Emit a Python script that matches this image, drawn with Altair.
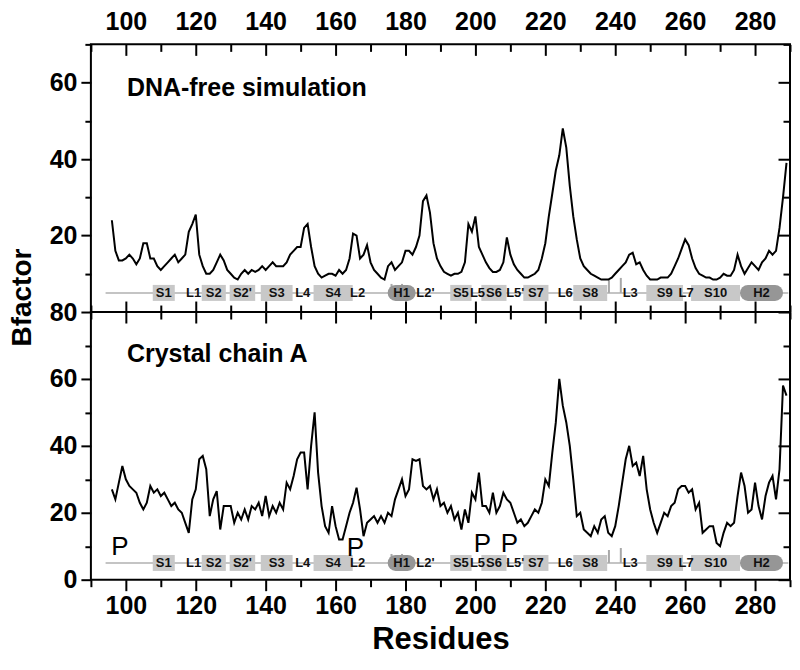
import altair as alt
import pandas as pd

# ---------------- data ----------------
residues = list(range(96, 290))

dna_free = [24, 16, 13.5, 13.5, 14, 15, 14, 12.5, 14, 18,
            18, 14, 14, 12, 11, 12, 13, 14, 15, 13,
            14, 15, 21, 23, 25.5, 15, 12, 10, 10, 11,
            13, 15, 13.5, 11, 10, 9, 8.5, 10, 11, 10,
            11, 10.5, 11, 12, 11, 12, 13, 12, 12, 12,
            13, 15, 16, 17, 17, 22, 23, 17, 12, 10,
            9, 9.5, 10, 10, 9.5, 11, 10, 11, 14, 20.5,
            20, 14, 15, 17.5, 13, 11, 10, 9, 8.5, 12,
            13, 11, 12, 13, 16, 16, 15, 17, 20, 29,
            30.5, 26, 18, 14, 12, 10.5, 10, 9.5, 10, 10,
            10.5, 13, 23, 21, 25, 17, 15, 13, 11.5, 10.5,
            10.5, 11, 13, 19.5, 15, 12.5, 11, 10, 9, 9,
            9.5, 10, 11, 14, 18, 25, 31, 37, 41, 48,
            43, 33, 25, 19, 14, 12, 11, 10, 9.5, 9,
            8.5, 8.5, 8.5, 9,
            10, 11, 12, 13, 15, 15.5, 12.5, 13, 11, 9.5,
            8.5, 8.5, 8.5, 9, 9, 9,
            10, 12, 14, 16.5, 19, 17.5, 14, 11.5, 10, 9.5,
            9, 9, 8.5, 8.5, 9, 10, 9.5, 9.5, 11, 15,
            12, 10, 11.5, 13, 12, 11, 13, 14, 16, 15,
            16, 22, 30, 39]

crystal_a = [27, 24, 29, 34, 30, 28, 27, 26, 23, 21,
             23, 28, 26, 27, 25, 26, 24, 22, 23, 21,
             20, 17, 14, 24, 27, 36, 37, 33, 19, 24,
             26.5, 15, 22, 22, 22, 17, 20, 18, 21, 18,
             22, 21, 23, 19, 25, 19, 22, 20, 23, 21,
             29, 27, 31, 36, 38, 38, 27, 40, 50, 32,
             22, 16, 14, 22, 16, 12, 12, 16, 20, 23,
             27.5, 21, 13, 17, 18, 19, 17, 19, 17, 20,
             19, 24, 27, 30, 25, 27, 36, 35.5, 36, 28,
             27, 28, 24, 27, 22, 23, 20, 22, 18, 20,
             15, 21, 17, 26, 24, 32, 22, 22, 20, 26,
             20, 22, 26, 24, 23, 20, 17, 18, 16, 17,
             19, 21, 20, 23, 30, 28, 38, 47, 60, 52,
             47, 40, 30, 19, 20, 15, 14, 13, 16, 14,
             18, 19, 14, 13, 16, 22, 29, 36, 40, 34,
             35, 31, 37, 27, 21, 17, 14, 17, 20, 19,
             22, 23, 27, 28, 28, 26, 27, 21, 23, 14,
             15, 16, 16, 11, 10, 14, 17, 16, 17, 25,
             32, 28, 20, 21, 29, 22, 18, 25, 29, 31,
             24, 33, 58, 55]

# secondary structure (residue ranges)
strand_names = ["S1", "S2", "S2'", "S3", "S4", "S5", "S6", "S7", "S8", "S9", "S10"]
strand_start = [107.7, 121.7, 129.7, 138.6, 153.7, 192.8, 201.7, 213.7, 228.0, 248.9, 261.7]
strand_end = [114.0, 128.6, 137.0, 147.7, 164.9, 198.9, 208.9, 220.9, 237.7, 259.4, 275.7]

helix_names = ["H1", "H2"]
helix_start = [174.9, 275.7]
helix_end = [182.9, 288.0]

loop_names = ["L1", "L4", "L2", "L2'", "L5", "L5'", "L6", "L3", "L7"]
loop_pos = [119.4, 150.6, 166.3, 185.7, 200.6, 211.4, 225.7, 244.3, 260.3]

ss_line_start = [94.2]
ss_line_end = [289.5]
ss_level = 5

mark_pos = [176.0, 179.0, 238.2, 241.6]
mark_len_px = [9, 9, 13, 15]

p_pos = [98.3, 165.7, 202.0, 209.7]
p_val = [7.5, 7.2, 8.4, 8.4]

x_major = list(range(100, 281, 20))
x_minor = list(range(90, 291, 20))

# ---------------- styling ----------------
FONT = "Liberation Sans, Arial, Helvetica, sans-serif"
W, H = 700, 268
X_DOMAIN = [90, 290]
PX_PER_RES = W / (X_DOMAIN[1] - X_DOMAIN[0])


def axis(orient, values, size, inward, labels=False, **kw):
    props = dict(orient=orient, values=values, tickSize=size, labels=labels,
                 domain=False, grid=False, tickColor="black", tickWidth=2,
                 title=None)
    if inward:
        props["offset"] = -size
    props.update(kw)
    return alt.Axis(**props)


def panel(curve, ymax, y_major, y_minor, top_labels, bottom_labels, label_text,
          label_val, p_marks=False, y_title=False):
    ppu = H / ymax
    xs = alt.Scale(domain=X_DOMAIN, nice=False, zero=False)
    ys = alt.Scale(domain=[0, ymax], nice=False, zero=False)
    df = pd.DataFrame({"res": residues, "b": curve})

    lab = dict(labelFont=FONT, labelFontSize=25, labelFontWeight="bold",
               labelColor="black")
    if top_labels:
        x_top_major = axis("top", x_major, 11, True, labels=True, labelPadding=10, **lab)
    else:
        x_top_major = axis("top", x_major, 11, True)
    x_top_minor = axis("top", x_minor, 7, True)
    if bottom_labels:
        x_bot_major = axis("bottom", x_major, 11, False, labels=True, labelPadding=3,
                           title="Residues", titleFont=FONT, titleFontSize=31,
                           titleFontWeight="bold", titleColor="black",
                           titlePadding=6, **lab)
        x_bot_minor = axis("bottom", x_minor, 7, False)
    else:
        x_bot_major = axis("bottom", x_major, 11, True)
        x_bot_minor = axis("bottom", x_minor, 7, True)
    ykw = dict(labelPadding=4, **lab)
    if y_title:
        ykw.update(title="Bfactor", titleFont=FONT, titleFontSize=28,
                   titleFontWeight="bold", titleColor="black", titleAngle=270,
                   titleX=-68, titleY=H - 15, titleAlign="center",
                   titleBaseline="middle")
    y_left_major = axis("left", y_major, 10, False, labels=True, **ykw)
    y_left_minor = axis("left", y_minor, 6, False)
    y_right_major = axis("right", y_major, 12, True)
    y_right_minor = axis("right", y_minor, 7, True)

    pairs = [(x_top_major, y_left_major), (x_top_minor, y_left_minor),
             (x_bot_major, y_right_major), (x_bot_minor, y_right_minor)]
    carriers = [
        alt.Chart(df).mark_point(opacity=0).encode(
            x=alt.X("res:Q", scale=xs, axis=xa),
            y=alt.Y("b:Q", scale=ys, axis=ya))
        for xa, ya in pairs
    ]

    X = lambda f: alt.X(f, scale=xs, axis=None)
    Y = lambda f: alt.Y(f, scale=ys, axis=None)

    base = alt.Chart(pd.DataFrame({"s": ss_line_start, "e": ss_line_end,
                                   "y": [ss_level]})).mark_rule(
        color="#c4c4c4", strokeWidth=2).encode(x=X("s:Q"), x2="e:Q", y=Y("y:Q"))

    mk = pd.DataFrame({"x": mark_pos,
                       "y": [ss_level] * len(mark_pos),
                       "y2": [ss_level + l / ppu for l in mark_len_px]})
    marks = alt.Chart(mk).mark_rule(color="#a8a8a8", strokeWidth=2).encode(
        x=X("x:Q"), y=Y("y:Q"), y2="y2:Q")

    strands = pd.DataFrame({"n": strand_names, "s": strand_start, "e": strand_end,
                            "y": [ss_level] * len(strand_names)})
    strands["c"] = (strands["s"] + strands["e"]) / 2
    boxes = alt.Chart(strands).mark_rule(color="#c8c8c8", strokeWidth=16,
                                         strokeCap="butt").encode(
        x=X("s:Q"), x2="e:Q", y=Y("y:Q"))

    inset = 8 / PX_PER_RES
    helices = pd.DataFrame({"n": helix_names, "s": helix_start, "e": helix_end,
                            "y": [ss_level] * 2})
    helices["c"] = (helices["s"] + helices["e"]) / 2
    helices["si"] = helices["s"] + inset
    helices["ei"] = helices["e"] - inset
    pills = alt.Chart(helices).mark_rule(color="#969696", strokeWidth=16,
                                         strokeCap="round").encode(
        x=X("si:Q"), x2="ei:Q", y=Y("y:Q"))

    txt = dict(font=FONT, fontSize=13, fontWeight="bold", color="#111111",
               baseline="middle", align="center")
    s_text = alt.Chart(strands).mark_text(**txt).encode(
        x=X("c:Q"), y=Y("y:Q"), text="n:N")
    h_text = alt.Chart(helices).mark_text(**txt).encode(
        x=X("c:Q"), y=Y("y:Q"), text="n:N")
    loops = pd.DataFrame({"n": loop_names, "x": loop_pos,
                          "y": [ss_level] * len(loop_names)})
    l_text = alt.Chart(loops).mark_text(**txt).encode(
        x=X("x:Q"), y=Y("y:Q"), text="n:N")

    line = alt.Chart(df).mark_line(color="black", strokeWidth=2).encode(
        x=X("res:Q"), y=Y("b:Q"))

    title = alt.Chart(pd.DataFrame({"t": [label_text], "x": [100.3],
                                    "y": [label_val]})).mark_text(
        font=FONT, fontSize=25, fontWeight="bold", color="black",
        align="left", baseline="middle").encode(x=X("x:Q"), y=Y("y:Q"), text="t:N")

    layers = carriers + [base, marks, boxes, pills, s_text, h_text, l_text,
                         line, title]
    if p_marks:
        pdf = pd.DataFrame({"x": p_pos, "y": p_val, "t": ["P"] * len(p_pos)})
        layers.append(alt.Chart(pdf).mark_text(
            font=FONT, fontSize=26, fontWeight="normal", color="black",
            align="center", baseline="alphabetic").encode(
            x=X("x:Q"), y=Y("y:Q"), text="t:N"))

    return alt.layer(*layers).resolve_axis(x="independent", y="independent").properties(
        width=W, height=H)


top = panel(dna_free, 70, [20, 40, 60], [10, 30, 50, 70], True, False,
            "DNA-free simulation", 58.5, y_title=True)
bottom = panel(crystal_a, 80, [0, 20, 40, 60, 80], [10, 30, 50, 70], False, True,
               "Crystal chain A", 67.5, p_marks=True)

chart = alt.vconcat(top, bottom, spacing=0, bounds="flush", padding=0,
                    background="white").configure_view(stroke="black", strokeWidth=2)

chart.save("out.html", embed_options={"renderer": "svg", "actions": False})
